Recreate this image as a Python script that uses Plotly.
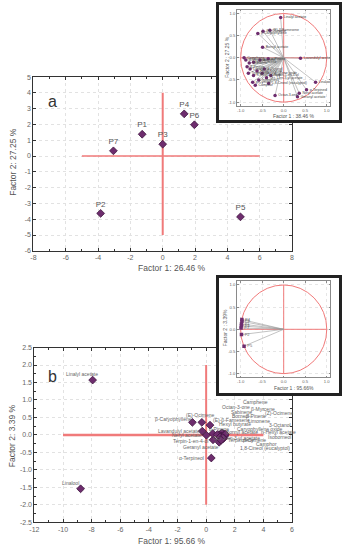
import plotly.graph_objects as go

W, H = 343, 550
FONT = "Liberation Sans, Arial, sans-serif"
PURPLE = "#6e2d6e"
PURPLE_EDGE = "#3f153f"
RED = "#f07a7a"
TXT = "#555555"

# ---------------- data ----------------
# Panel a: sample scores on factors 1 and 2
samples = ["P1", "P2", "P3", "P4", "P5", "P6", "P7"]
score_f1 = [-1.27, -3.84, 0.0, 1.33, 4.81, 1.96, -3.05]
score_f2 = [1.38, -3.63, 0.75, 2.67, -3.85, 1.98, 0.33]

# Compounds (shared by panel a inset and panel b)
compounds = [
    "Linalyl acetate", "Linalool", "β-Caryophyllene", "(E)-Ocimene",
    "(E)-β-Farnesene", "Lavandulyl acetate", "Neryl acetate",
    "Terpin-1-en-4-ol", "Geranyl acetate", "α-Terpineol", "α-Pinene",
    "Camphene", "Octan-3-one", "β-Myrcene", "Sabinene", "(Z)-Ocimene",
    "Borneol", "β-Pinene", "Limonene", "Hexyl butyrate", "3-Octanol",
    "Caryophyllene oxide", "Bornyl acetate", "n-Hexyl acetate",
    "Oct-1-en-3-yl acetate", "Isoborneol", "Terpinolene", "p-Cymene",
    "Camphor", "1,8-Cineol (eucalyptol)",
]

# Panel a inset: compound loadings (factor 1: 38.46 %, factor 2: 27.25 %)
load_a_f1 = [-0.07, 0.74, -0.60, -0.48, -0.32, 0.39, 0.36, -0.30, 0.32, 0.53,
             -0.36, -0.92, -0.20, -0.88, -0.80, -0.70, -0.55, -0.85, -0.78,
             -0.62, -0.45, -0.50, -0.49, -0.70, -0.40, -0.58, -0.82, -0.72,
             -0.66, -0.35]
load_a_f2 = [0.91, -0.55, 0.55, 0.60, 0.62, -0.01, -0.80, -0.40, -0.88, -0.72,
             -0.02, 0.00, -0.85, -0.05, -0.12, -0.10, -0.05, -0.20, -0.25,
             -0.30, -0.25, -0.35, 0.24, -0.40, -0.45, -0.50, -0.35, -0.55,
             -0.62, -0.58]

# Panel b: compound scores (factor 1: 95.66 %, factor 2: 3.39 %)
comp_b_f1 = [-7.93, -8.77, -0.96, -0.30, 0.27, -0.27, 0.02, 0.48, 0.91, 0.36,
             0.46, 1.18, 1.00, 1.28, 1.09, 1.32, 1.05, 1.23, 1.18, 0.91, 1.14,
             0.77, 1.28, 1.34, 0.96, 1.23, 1.09, 1.18, 1.16, 1.05]
comp_b_f2 = [1.57, -1.54, 0.36, 0.36, 0.28, 0.11, -0.01, -0.14, -0.21, -0.66,
             0.04, 0.04, 0.02, 0.02, 0.06, 0.00, -0.03, -0.02, -0.05, 0.00,
             -0.07, 0.01, -0.04, 0.02, -0.06, -0.09, -0.11, -0.11, -0.08, -0.15]

# Panel b inset: sample loadings
load_b_f1 = [-0.98, -0.98, -0.98, -0.97, -0.92, -0.97, -0.99]
load_b_f2 = [0.12, -0.12, 0.08, 0.22, -0.38, 0.18, 0.03]

# Tick labels
ticks_a_x = [-8, -6, -4, -2, 0, 2, 4, 6, 8]
ticks_a_y = [-6, -5, -4, -3, -2, -1, 0, 1, 2, 3, 4, 5]
ticks_b_x = [-12, -10, -8, -6, -4, -2, 0, 2, 4, 6]
ticks_b_y = [-2.5, -2.0, -1.5, -1.0, -0.5, 0.0, 0.5, 1.0, 1.5, 2.0, 2.5]
ticks_unit = [-1.0, -0.5, 0.0, 0.5, 1.0]

# Pixel offsets (dx, dy; dy up) of the compound labels in panel b
label_shift_b = [
    (-11, 6), (-10, 6), (-19, 3), (-1, 7), (21, 5), (-23, 0), (-19, 0),
    (-23, -1), (-18, -5), (-20, 0), (6, 5), (32, 32), (16, 27), (39, 25),
    (20, 21), (54, 22), (19, 20), (32, 20), (36, 16), (16, 11), (58, 12),
    (43, 6), (18, 4), (53, 2), (17, -1), (56, 1), (19, -1), (31, -1),
    (44, -6), (44, -8),
]


def fmt(v, dec=0):
    s = f"{abs(v):.{dec}f}"
    return ("-" + s) if v < 0 else s


def px_x(p):
    return p / W


def px_y(p):
    return 1 - p / H


def spokes(xs, ys):
    lx, ly = [], []
    for a, b in zip(xs, ys):
        lx += [0, a, None]
        ly += [0, b, None]
    return lx, ly


fig = go.Figure()

# ---- panel a scores
fig.add_trace(go.Scatter(
    x=score_f1, y=score_f2, mode="markers+text", text=samples,
    textposition="top center", textfont=dict(size=8, color=TXT, family=FONT),
    marker=dict(symbol="diamond", size=6, color=PURPLE,
                line=dict(width=0.8, color=PURPLE_EDGE)),
    xaxis="x", yaxis="y", hoverinfo="skip"))

# ---- panel b scores
fig.add_trace(go.Scatter(
    x=comp_b_f1, y=comp_b_f2, mode="markers",
    marker=dict(symbol="diamond", size=6, color=PURPLE,
                line=dict(width=0.8, color=PURPLE_EDGE)),
    xaxis="x2", yaxis="y2", hoverinfo="skip"))

# ---- inset frame for panel a (white card)
fig.add_trace(go.Scatter(x=[None], y=[None], xaxis="x3", yaxis="y3",
                         hoverinfo="skip"))

# ---- panel a inset: loadings
sx, sy = spokes(load_a_f1, load_a_f2)
fig.add_trace(go.Scatter(x=sx, y=sy, mode="lines",
                         line=dict(color="#9a9a9a", width=0.6),
                         xaxis="x4", yaxis="y4", hoverinfo="skip"))
fig.add_trace(go.Scatter(
    x=load_a_f1, y=load_a_f2, mode="markers+text", text=compounds,
    textposition="middle right", textfont=dict(size=3.5, color="#444", family=FONT),
    marker=dict(symbol="circle", size=3.5, color=PURPLE),
    xaxis="x4", yaxis="y4", hoverinfo="skip"))

# ---- inset frame for panel b
fig.add_trace(go.Scatter(x=[None], y=[None], xaxis="x5", yaxis="y5",
                         hoverinfo="skip"))

# ---- panel b inset: loadings
sx, sy = spokes(load_b_f1, load_b_f2)
fig.add_trace(go.Scatter(x=sx, y=sy, mode="lines",
                         line=dict(color="#9a9a9a", width=0.6),
                         xaxis="x6", yaxis="y6", hoverinfo="skip"))
fig.add_trace(go.Scatter(
    x=load_b_f1, y=load_b_f2, mode="markers+text", text=samples,
    textposition="middle right", textfont=dict(size=4, color="#666", family=FONT),
    marker=dict(symbol="square", size=3.5, color=PURPLE),
    xaxis="x6", yaxis="y6", hoverinfo="skip"))

main_axis = dict(
    showline=True, mirror="ticks", linecolor="#333", linewidth=1,
    ticks="inside", ticklen=3, tickcolor="#333", tickwidth=1,
    showgrid=True, gridcolor="#e2e2e2", griddash="dot", gridwidth=0.6,
    zeroline=False, tickfont=dict(size=7, color="#666", family=FONT),
    fixedrange=True,
)
inset_axis = dict(
    showline=True, mirror="ticks", linecolor="#8a8a8a", linewidth=0.8,
    ticks="inside", ticklen=1.5, tickcolor="#8a8a8a",
    showgrid=True, gridcolor="#e6e6e6", griddash="dot", gridwidth=0.5,
    zeroline=False, tickfont=dict(size=4.2, color="#666", family=FONT),
    tickvals=ticks_unit, ticktext=[fmt(v, 1) for v in ticks_unit],
    range=[-1.08, 1.08], fixedrange=True,
)
cover_axis = dict(
    showline=True, mirror=True, linecolor="#222", linewidth=2.5,
    ticks="", showticklabels=False, showgrid=False, zeroline=False,
    range=[0, 1], fixedrange=True,
)

fig.update_layout(
    width=W, height=H, autosize=False,
    margin=dict(l=0, r=0, t=0, b=0, pad=0),
    paper_bgcolor="white", plot_bgcolor="white", showlegend=False,
    font=dict(family=FONT, color=TXT),
    xaxis=dict(main_axis, domain=[px_x(29), px_x(293)], range=[-8, 8],
               tickvals=ticks_a_x, ticktext=[fmt(v) for v in ticks_a_x],
               minor=dict(ticks="inside", ticklen=2, dtick=1, showgrid=False),
               anchor="y"),
    yaxis=dict(main_axis, domain=[px_y(250), px_y(74)], range=[-6, 5],
               tickvals=ticks_a_y, ticktext=[fmt(v) for v in ticks_a_y],
               anchor="x"),
    xaxis2=dict(main_axis, domain=[px_x(30), px_x(293)], range=[-12, 6],
                tickvals=ticks_b_x, ticktext=[fmt(v) for v in ticks_b_x],
                minor=dict(ticks="inside", ticklen=2, dtick=1, showgrid=False),
                anchor="y2"),
    yaxis2=dict(main_axis, domain=[px_y(525), px_y(348)], range=[-2.5, 2.5],
                tickvals=ticks_b_y, ticktext=[fmt(v, 1) for v in ticks_b_y],
                minor=dict(ticks="inside", ticklen=2, dtick=0.25, showgrid=False),
                anchor="x2"),
    xaxis3=dict(cover_axis, domain=[px_x(218), px_x(341)], anchor="y3"),
    yaxis3=dict(cover_axis, domain=[px_y(118), px_y(1.5)], anchor="x3"),
    xaxis4=dict(inset_axis, domain=[px_x(237), px_x(332)], anchor="y4"),
    yaxis4=dict(inset_axis, domain=[px_y(103), px_y(6)], anchor="x4"),
    xaxis5=dict(cover_axis, domain=[px_x(218), px_x(341)], anchor="y5"),
    yaxis5=dict(cover_axis, domain=[px_y(394), px_y(278)], anchor="x5"),
    xaxis6=dict(inset_axis, domain=[px_x(237), px_x(332)], anchor="y6"),
    yaxis6=dict(inset_axis, domain=[px_y(378), px_y(281)], anchor="x6"),
)

# ---- red reference crosses and correlation circles
def hline(xr, yr, x0, x1, w):
    fig.add_shape(type="line", xref=xr, yref=yr, x0=x0, x1=x1, y0=0, y1=0,
                  line=dict(color=RED, width=w), layer="between")


def vline(xr, yr, y0, y1, w):
    fig.add_shape(type="line", xref=xr, yref=yr, x0=0, x1=0, y0=y0, y1=y1,
                  line=dict(color=RED, width=w), layer="between")


hline("x", "y", -5, 6, 1.5)
vline("x", "y", -5, 4, 2)
hline("x2", "y2", -10, 4, 2.5)
vline("x2", "y2", -2, 2, 2)
for xr, yr in (("x4", "y4"), ("x6", "y6")):
    fig.add_shape(type="circle", xref=xr, yref=yr, x0=-1, y0=-1, x1=1, y1=1,
                  line=dict(color=RED, width=1), layer="between")
    hline(xr, yr, -1, 1, 1)
    vline(xr, yr, -1, 1, 1)

# ---- text
ann = []


def label(text, x, y, size, angle=0, color=TXT):
    ann.append(dict(text=text, x=px_x(x), y=px_y(y), xref="paper", yref="paper",
                    showarrow=False, textangle=angle, xanchor="center",
                    yanchor="middle", font=dict(size=size, color=color, family=FONT)))


label("a", 48, 99, 16, color="#333")
label("b", 48, 377, 16, color="#333")
label("Factor 1: 26.46 %", 170, 267, 8.5)
label("Factor 2: 27.25 %", 8, 160, 8.5, angle=-90)
label("Factor 1: 95.66 %", 170, 544, 8.5)
label("Factor 2: 3.39 %", 8, 437, 8.5, angle=-90)
label("Factor 1 : 38.46 %", 294, 113, 5)
label("Factor 2 : 27.25 %", 227, 54, 5, angle=-90)
label("Factor 1 : 95.66%", 295, 389, 5)
label("Factor 2 : 3.39%", 224, 328, 5, angle=-90)

for name, xv, yv, (dx, dy) in zip(compounds, comp_b_f1, comp_b_f2, label_shift_b):
    ann.append(dict(text=name, x=xv, y=yv, xref="x2", yref="y2",
                    showarrow=False, xshift=dx, yshift=dy,
                    font=dict(size=5, color="#666", family=FONT)))

fig.update_layout(annotations=ann)

fig.write_html("out.html")
